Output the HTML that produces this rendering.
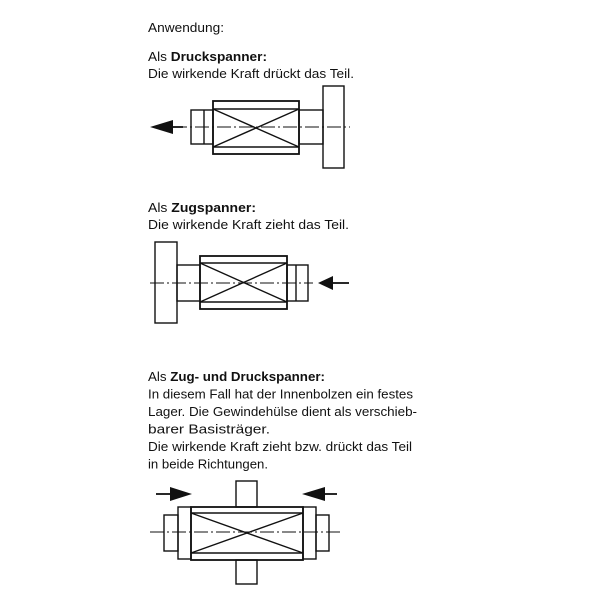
<!DOCTYPE html>
<html><head><meta charset="utf-8"><style>html,body{margin:0;padding:0;background:#fff;width:600px;height:600px;overflow:hidden}</style></head>
<body>
<svg width="600" height="600" viewBox="0 0 600 600" xmlns="http://www.w3.org/2000/svg" font-family="'Liberation Sans Narrow','Liberation Sans',sans-serif" font-size="13" fill="#111">
<text x="148" y="32" textLength="76" lengthAdjust="spacingAndGlyphs">Anwendung:</text>
<text x="148" y="61" textLength="119" lengthAdjust="spacingAndGlyphs">Als <tspan font-weight="bold">Druckspanner:</tspan></text>
<text x="148" y="78" textLength="206" lengthAdjust="spacingAndGlyphs">Die wirkende Kraft drückt das Teil.</text>
<text x="148" y="212" textLength="108" lengthAdjust="spacingAndGlyphs">Als <tspan font-weight="bold">Zugspanner:</tspan></text>
<text x="148" y="229" textLength="201" lengthAdjust="spacingAndGlyphs">Die wirkende Kraft zieht das Teil.</text>
<text x="148" y="381" textLength="177" lengthAdjust="spacingAndGlyphs">Als <tspan font-weight="bold">Zug- und Druckspanner:</tspan></text>
<text x="148" y="398.5" textLength="265" lengthAdjust="spacingAndGlyphs">In diesem Fall hat der Innenbolzen ein festes</text>
<text x="148" y="416" textLength="269" lengthAdjust="spacingAndGlyphs">Lager. Die Gewindehülse dient als verschieb-</text>
<text x="148" y="433.5" textLength="122" lengthAdjust="spacingAndGlyphs">barer Basisträger.</text>
<text x="148" y="451" textLength="264" lengthAdjust="spacingAndGlyphs">Die wirkende Kraft zieht bzw. drückt das Teil</text>
<text x="148" y="468.5" textLength="120" lengthAdjust="spacingAndGlyphs">in beide Richtungen.</text>
<g fill="none" stroke="#111" stroke-width="1.4">
<rect x="191" y="110" width="22" height="34"/><line x1="204" y1="110" x2="204" y2="144"/>
<rect x="213" y="101" width="86" height="53" stroke-width="1.8"/>
<line x1="213" y1="109" x2="299" y2="109"/><line x1="213" y1="147" x2="299" y2="147"/>
<line x1="213" y1="109" x2="299" y2="147"/><line x1="213" y1="147" x2="299" y2="109"/>
<rect x="299" y="110" width="24" height="34"/>
<rect x="323" y="86" width="21" height="82"/>
<line x1="173" y1="127" x2="350" y2="127" stroke-width="1" stroke-dasharray="14,3,2,3"/>
<line x1="173" y1="127" x2="183" y2="127" stroke-width="1.8"/>
<rect x="155" y="242" width="22" height="81"/>
<rect x="177" y="265" width="23" height="36"/>
<rect x="200" y="256" width="87" height="53" stroke-width="1.8"/>
<line x1="200" y1="263" x2="287" y2="263"/><line x1="200" y1="302" x2="287" y2="302"/>
<line x1="200" y1="263" x2="287" y2="302"/><line x1="200" y1="302" x2="287" y2="263"/>
<rect x="287" y="265" width="21" height="36"/><line x1="296" y1="265" x2="296" y2="301"/>
<line x1="150" y1="283" x2="313" y2="283" stroke-width="1" stroke-dasharray="14,3,2,3"/>
<line x1="333" y1="283" x2="349" y2="283" stroke-width="1.8"/>
<rect x="236" y="481" width="21" height="26"/>
<rect x="236" y="560" width="21" height="24"/>
<rect x="164" y="515" width="14" height="36"/>
<rect x="178" y="507" width="13" height="52"/>
<rect x="191" y="507" width="112" height="53" stroke-width="1.8"/>
<line x1="191" y1="513" x2="303" y2="513"/><line x1="191" y1="553" x2="303" y2="553"/>
<line x1="191" y1="513" x2="303" y2="553"/><line x1="191" y1="553" x2="303" y2="513"/>
<rect x="303" y="507" width="13" height="52"/>
<rect x="316" y="515" width="13" height="36"/>
<line x1="150" y1="532" x2="343" y2="532" stroke-width="1" stroke-dasharray="14,3,2,3"/>
<line x1="156" y1="494" x2="172" y2="494" stroke-width="1.8"/>
<line x1="323" y1="494" x2="337" y2="494" stroke-width="1.8"/>
</g>
<g fill="#111">
<polygon points="150,127 173,120 173,134"/>
<polygon points="318,283 333,276 333,290"/>
<polygon points="192,494 170,487 170,501"/>
<polygon points="302,494 325,487 325,501"/>
</g>
</svg>
</body></html>
